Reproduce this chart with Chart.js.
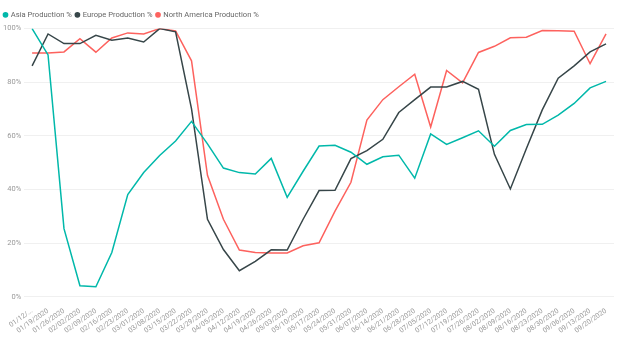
<!DOCTYPE html>
<html>
<head>
<meta charset="utf-8">
<script src="https://cdn.jsdelivr.net/npm/chart.js@4.4.1/dist/chart.umd.min.js"></script>
<style>
  html, body { margin: 0; padding: 0; background: #fff; }
  .chart-box { position: relative; width: 624px; height: 338px; }
</style>
</head>
<body>
<div class="chart-box">
  <canvas id="productionChart"></canvas>
</div>
<script>
// weekly dates
const weeks = [
    '01/12/2020', '01/19/2020', '01/26/2020', '02/02/2020', '02/09/2020', '02/16/2020',
    '02/23/2020', '03/01/2020', '03/08/2020', '03/15/2020', '03/22/2020', '03/29/2020',
    '04/05/2020', '04/12/2020', '04/19/2020', '04/26/2020', '05/03/2020', '05/10/2020',
    '05/17/2020', '05/24/2020', '05/31/2020', '06/07/2020', '06/14/2020', '06/21/2020',
    '06/28/2020', '07/05/2020', '07/12/2020', '07/19/2020', '07/26/2020', '08/02/2020',
    '08/09/2020', '08/16/2020', '08/23/2020', '08/30/2020', '09/06/2020', '09/13/2020',
    '09/20/2020'
];

const asiaPct = [
    100, 90.2, 25.4, 4.1, 3.7, 16.5, 38.1, 46.3, 52.7, 58.1, 65.4, 57.0,
    48.0, 46.3, 45.8, 51.6, 37.1, 46.8, 56.2, 56.5, 53.9, 49.4, 52.2, 52.8,
    44.2, 60.7, 56.8, 59.3, 61.9, 56.1, 62.0, 64.2, 64.3, 67.7, 72.1, 77.9,
    80.3
];

const europePct = [
    86.1, 98.0, 94.4, 94.4, 97.5, 95.7, 96.5, 95.0, 100, 98.8, 70.1, 28.9,
    17.6, 9.7, 13.2, 17.5, 17.4, 28.9, 39.6, 39.7, 51.5, 54.5, 58.7, 68.7,
    73.5, 78.2, 78.2, 80.3, 77.4, 53.1, 40.2, 55.2, 69.7, 81.5, 86.1, 91.3,
    94.3
];

const northAmericaPct = [
    90.9, 90.9, 91.3, 96.2, 91.2, 96.5, 98.4, 98.0, 100, 99.1, 88.0, 45.3,
    28.9, 17.4, 16.5, 16.3, 16.3, 19.0, 20.1, 31.9, 42.7, 65.9, 73.5, 78.3,
    83.0, 63.3, 84.4, 79.8, 91.1, 93.4, 96.6, 96.8, 99.3, 99.2, 99.0, 86.9,
    98.0
];

const yTicks = [0, 20, 40, 60, 80, 100];

document.addEventListener('DOMContentLoaded', function() {
    if (typeof Chart === 'undefined') {
        console.error('Chart.js is not loaded!');
        return;
    }

    Chart.defaults.font.family = "'Segoe UI', Roboto, sans-serif";

    const ctx = document.getElementById('productionChart').getContext('2d');

    const makeLine = (label, data, color) => ({
        label: label,
        data: data,
        borderColor: color,
        backgroundColor: color,
        borderWidth: 1.5,
        pointRadius: 0,
        pointHoverRadius: 0,
        tension: 0,
        fill: false
    });

    new Chart(ctx, {
        type: 'line',
        data: {
            labels: weeks,
            datasets: [
                makeLine('Asia Production %', asiaPct, '#01B8AA'),
                makeLine('Europe Production %', europePct, '#374649'),
                makeLine('North America Production %', northAmericaPct, '#FD625E')
            ]
        },
        options: {
            responsive: true,
            maintainAspectRatio: false,
            animation: false,
            layout: {
                padding: { left: 0, right: 10, top: 7, bottom: 1 }
            },
            scales: {
                x: {
                    offset: true,
                    grid: { display: false },
                    border: { display: false },
                    ticks: {
                        autoSkip: false,
                        minRotation: 35,
                        maxRotation: 35,
                        padding: 2,
                        color: '#999',
                        font: { size: 7 },
                        callback: function(value, index) {
                            // first label is cut short in the original
                            return index === 0 ? '01/12/...' : weeks[index];
                        }
                    }
                },
                y: {
                    min: 0,
                    max: 100,
                    afterBuildTicks: function(axis) {
                        axis.ticks = yTicks.map(v => ({ value: v }));
                    },
                    grid: { color: '#f0f0f0', lineWidth: 1, drawTicks: false },
                    border: { display: false },
                    ticks: {
                        padding: 3,
                        color: '#999',
                        font: { size: 7.5 },
                        callback: function(value) {
                            return value + '%';
                        }
                    }
                }
            },
            plugins: {
                legend: {
                    position: 'top',
                    align: 'start',
                    labels: {
                        usePointStyle: true,
                        pointStyle: 'circle',
                        boxWidth: 3,
                        boxHeight: 3,
                        padding: 4,
                        color: '#666',
                        font: { size: 7.6 }
                    }
                },
                tooltip: { enabled: false }
            }
        }
    });
});
</script>
</body>
</html>
